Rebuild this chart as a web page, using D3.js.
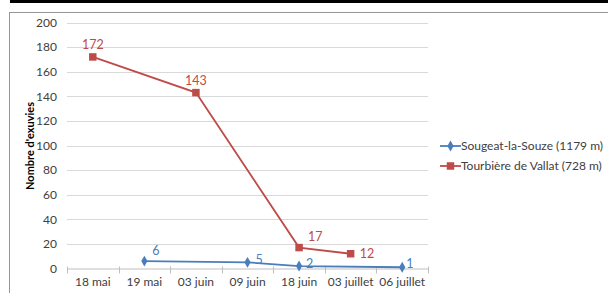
<!DOCTYPE html>
<html><head><meta charset="utf-8">
<script src="https://cdn.jsdelivr.net/npm/d3@7"></script>
<style>body{margin:0;background:#fff;}svg{display:block;font-family:Lato,"Open Sans",sans-serif;}</style>
</head><body>
<script>
const categories = ["18 mai","19 mai","03 juin","09 juin","18 juin","03 juillet","06 juillet"];
const sougeatValues = [null, 6, null, 5, 2, null, 1];
const vallatValues = [172, null, 143, null, 17, 12, null];
const yTicks = [0,20,40,60,80,100,120,140,160,180,200];
const seriesNames = ["Sougeat-la-Souze (1179 m)","Tourbière de Vallat (728 m)"];
const colors = ["#4a7ebb","#be4b48"];

const W=608,H=293;
const svg=d3.select("body").append("svg").attr("width",W).attr("height",H);
svg.append("rect").attr("x",10).attr("y",0).attr("width",W-10).attr("height",3).attr("fill","#000");
svg.append("rect").attr("x",9.5).attr("y",12.5).attr("width",W+5).attr("height",H+5).attr("fill","#fff").attr("stroke","#969696").attr("stroke-width",1);

const x=d3.scaleBand().domain(categories).range([67,428]);
const y=d3.scaleLinear().domain([0,200]).range([268.5,22.5]);

// gridlines
svg.append("g").selectAll("line").data(yTicks.filter(d=>d>0)).join("line")
 .attr("x1",67).attr("x2",428).attr("y1",d=>Math.round(y(d))+0.5).attr("y2",d=>Math.round(y(d))+0.5)
 .attr("stroke","#d9d9d9").attr("stroke-width",1);

// y axis labels
const yAxis=d3.axisLeft(y).tickValues(yTicks).tickSize(0).tickPadding(0);
const gy=svg.append("g").attr("transform","translate(57,0)").call(yAxis);
gy.select(".domain").remove();
gy.selectAll("text").attr("font-size","12px").attr("fill","#404040").attr("font-family","Lato,sans-serif");

// x axis
const xAxis=d3.axisBottom(x).tickSize(0).tickPadding(9);
const gx=svg.append("g").attr("transform",`translate(0,${y(0)})`).call(xAxis);
gx.select(".domain").attr("stroke","#bfbfbf");
gx.selectAll("text").attr("font-size","12px").attr("fill","#404040").attr("font-family","Lato,sans-serif");
// boundary tick marks
const bounds=categories.map(c=>x(c)).concat([x(categories[categories.length-1])+x.bandwidth()]);
svg.append("g").selectAll("line").data(bounds).join("line")
 .attr("x1",d=>Math.round(d)+0.5).attr("x2",d=>Math.round(d)+0.5)
 .attr("y1",y(0)-2).attr("y2",y(0)+5).attr("stroke","#bfbfbf");

// y title
svg.append("text").attr("transform","translate(34,146) rotate(-90)").attr("text-anchor","middle")
 .attr("font-size","11px").attr("font-weight","bold").attr("fill","#000").text("Nombre d'exuvies");

const cx=c=>x(c)+x.bandwidth()/2;
function drawSeries(vals,color,shape,labelOffsets){
  const pts=categories.map((c,i)=>({c,v:vals[i],i})).filter(d=>d.v!==null);
  svg.append("path").datum(pts).attr("fill","none").attr("stroke",color).attr("stroke-width",1.8)
   .attr("d",d3.line().x(d=>cx(d.c)).y(d=>y(d.v)));
  svg.append("g").selectAll("path").data(pts).join("path")
   .attr("transform",d=>`translate(${cx(d.c)},${y(d.v)})`)
   .attr("d",d3.symbol().type(shape==="square"?d3.symbolSquare:d3.symbolDiamond).size(shape==="square"?56:34))
   .attr("fill",color);
  svg.append("g").selectAll("text").data(pts).join("text")
   .attr("x",(d,k)=>cx(d.c)+labelOffsets[k][0]).attr("y",(d,k)=>y(d.v)+labelOffsets[k][1])
   .attr("text-anchor",(d,k)=>labelOffsets[k][2]||"start")
   .attr("font-size","12.5px").attr("fill",color).text(d=>d.v);
}
drawSeries(vallatValues,colors[1],"square",[[0,-8,"middle"],[0,-8,"middle"],[9,-7],[9,4]]);
drawSeries(sougeatValues,colors[0],"diamond",[[8,-6],[8,2],[7,2],[4,1]]);

// legend
const lg=svg.append("g");
seriesNames.forEach((n,i)=>{
  const ly=146+i*20;
  lg.append("line").attr("x1",440).attr("x2",461).attr("y1",ly).attr("y2",ly).attr("stroke",colors[i]).attr("stroke-width",1.8);
  lg.append("path").attr("transform",`translate(450.5,${ly})`)
    .attr("d",d3.symbol().type(i===1?d3.symbolSquare:d3.symbolDiamond).size(i===1?56:34)).attr("fill",colors[i]);
  lg.append("text").attr("x",461).attr("y",ly+4).attr("font-size","12px").attr("fill","#404040").text(n);
});
</script>
</body></html>
